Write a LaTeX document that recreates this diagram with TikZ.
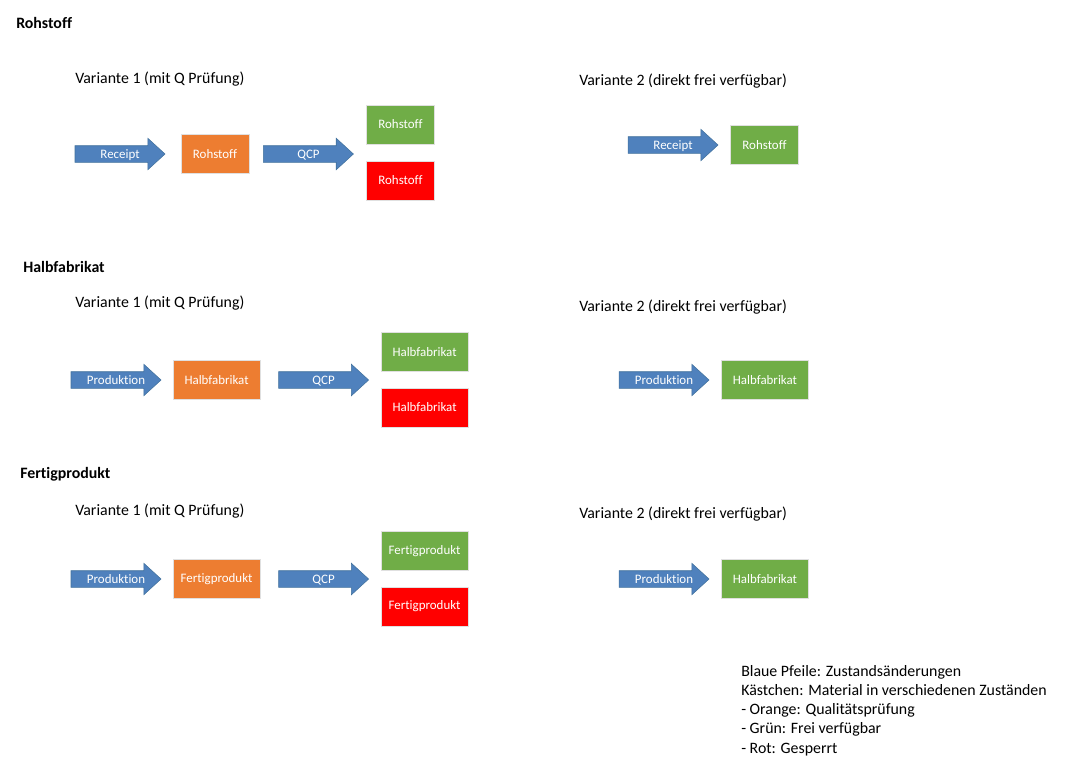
\documentclass[tikz,border=0pt]{standalone}
\usepackage{fontspec}
\setmainfont{Carlito}[Ligatures=NoCommon]
\usetikzlibrary{shapes.arrows}

\definecolor{pfeilblau}{HTML}{4F81BD}
\definecolor{pfeilrand}{HTML}{41719C}
\definecolor{qorange}{HTML}{ED7D31}
\definecolor{frgruen}{HTML}{70AD47}
\definecolor{sprot}{HTML}{FF0000}
\newcommand{\kastenschrift}{\fontsize{9.7}{11}\selectfont}
\newcommand{\textschrift}{\fontsize{11.9}{14.4}\selectfont}

\begin{document}
\begin{tikzpicture}[x=0.75pt, y=-0.75pt,
  pfeil/.style={draw=pfeilrand, fill=pfeilblau, shape=single arrow, single arrow head extend=5.6pt, single arrow tip angle=85, minimum height=67.5pt, inner xsep=0pt, inner ysep=1.5pt, text height=7.6pt, text depth=1.4pt, text=white, font=\kastenschrift, execute at begin node={\hspace*{6.8pt}}},
  kasten/.style={draw=black!12, line width=0.6pt, shape=rectangle, minimum width=51pt, minimum height=29.25pt, inner sep=0pt, text=white, font=\kastenschrift},
  breit/.style={minimum width=65.25pt},
  titel/.style={anchor=west, inner sep=0pt, font=\textschrift\bfseries},
  variante/.style={anchor=west, inner sep=0pt, font=\textschrift}]
\useasboundingbox (0,0) rectangle (1067,765);
% Rohstoff
\node[titel] (rt) at (16,23) {Rohstoff};
\node[variante] (rv1) at (75,79) {Variante 1 (mit Q Prüfung)};
\node[variante] (rv2) at (579,81.5) {Variante 2 (direkt frei verfügbar)};
\node[pfeil] (rin) at (115.5,154) {Receipt};
\node[kasten, fill=qorange, right of=rin, node distance=74.6pt] (rq) {Rohstoff};
\node[pfeil, right of=rq, node distance=66.7pt] (rqc) {QCP};
\node[kasten, fill=frgruen, right of=rqc, node distance=72.4pt, yshift=22.1pt] (rok) {Rohstoff};
\node[kasten, fill=sprot, below of=rok, node distance=42pt] (rno) {Rohstoff};
\node[pfeil] (rin2) at (668.5,145) {Receipt};
\node[kasten, fill=frgruen, right of=rin2, node distance=72pt] (rok2) {Rohstoff};
% Halbfabrikat
\node[titel] (ht) at (23,267) {Halbfabrikat};
\node[variante] (hv1) at (75,303.5) {Variante 1 (mit Q Prüfung)};
\node[variante] (hv2) at (579,307.5) {Variante 2 (direkt frei verfügbar)};
\node[pfeil] (hin) at (111.5,380) {Produktion};
\node[kasten, breit, fill=qorange, right of=hin, node distance=78.8pt] (hq) {Halbfabrikat};
\node[pfeil, right of=hq, node distance=76.9pt] (hqc) {QCP};
\node[kasten, breit, fill=frgruen, right of=hqc, node distance=79.1pt, yshift=21pt] (hok) {Halbfabrikat};
\node[kasten, breit, fill=sprot, below of=hok, node distance=41.6pt] (hno) {Halbfabrikat};
\node[pfeil] (hin2) at (659.5,380) {Produktion};
\node[kasten, breit, fill=frgruen, right of=hin2, node distance=79.1pt] (hok2) {Halbfabrikat};
% Fertigprodukt
\node[titel] (ft) at (20,474) {Fertigprodukt};
\node[variante] (fv1) at (75,511.5) {Variante 1 (mit Q Prüfung)};
\node[variante] (fv2) at (579,514.5) {Variante 2 (direkt frei verfügbar)};
\node[pfeil] (fin) at (111.5,579) {Produktion};
\node[kasten, breit, fill=qorange, right of=fin, node distance=78.8pt] (fq) {Fertigprodukt};
\node[pfeil, right of=fq, node distance=76.9pt] (fqc) {QCP};
\node[kasten, breit, fill=frgruen, right of=fqc, node distance=79.1pt, yshift=21pt] (fok) {Fertigprodukt};
\node[kasten, breit, fill=sprot, below of=fok, node distance=41.6pt] (fno) {Fertigprodukt};
\node[pfeil] (fin2) at (659.5,579) {Produktion};
\node[kasten, breit, fill=frgruen, right of=fin2, node distance=79.1pt] (fok2) {Halbfabrikat};
% Legende
\node[variante, anchor=north west, align=left] (leg) at (741,665) {Blaue Pfeile: Zustandsänderungen\\Kästchen: Material in verschiedenen Zuständen\\- Orange: Qualitätsprüfung\\- Grün: Frei verfügbar\\- Rot: Gesperrt};
\end{tikzpicture}
\end{document}
